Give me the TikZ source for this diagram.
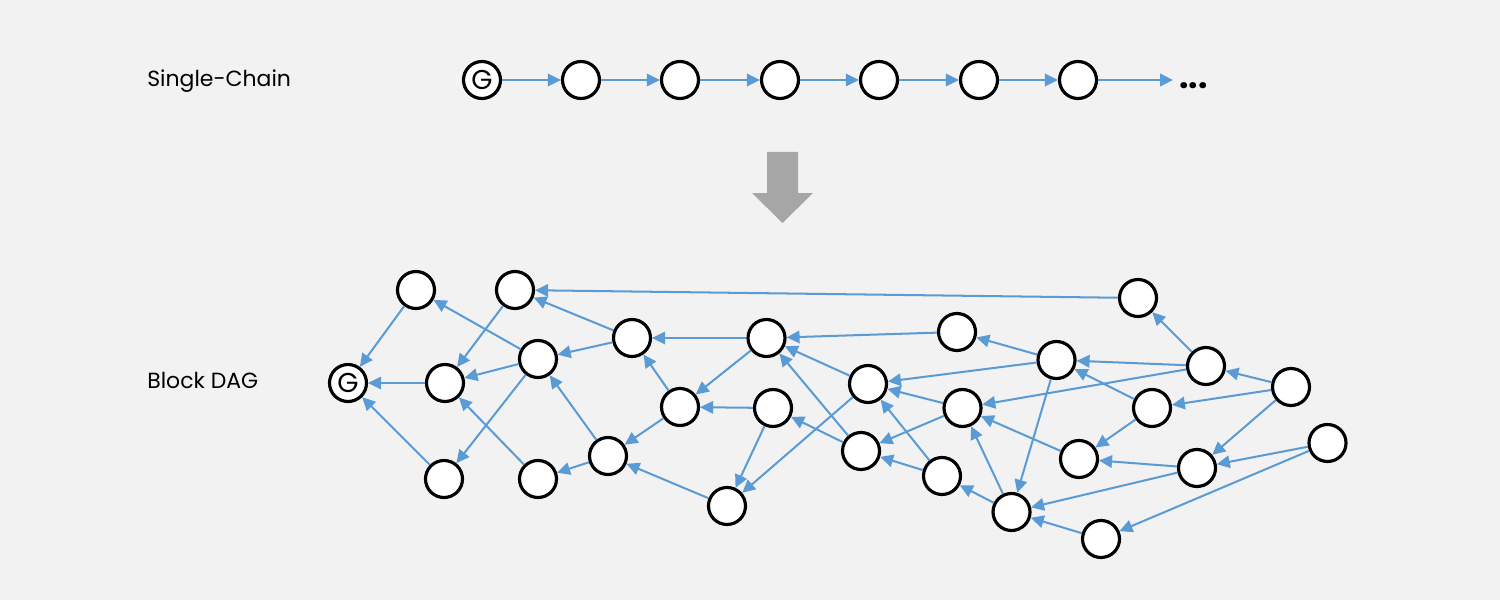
\documentclass[tikz,border=0pt]{standalone}
\usepackage{fontspec}
\setmainfont{Poppins}
\usetikzlibrary{arrows.meta}
\definecolor{LinkBlue}{RGB}{91,155,213}
\definecolor{PageGray}{RGB}{242,242,242}
\definecolor{ShiftGray}{RGB}{166,166,166}
\tikzset{
  blk/.style={circle, draw=black, line width=1.8pt, fill=white, minimum size=0.74cm, inner sep=0pt, font=\fontsize{15.5}{17}\selectfont},
  link/.style={-{Triangle[length=0.26cm, width=0.25cm]}, line width=1.15pt, LinkBlue},
  caption/.style={anchor=base west, inner sep=0pt, font=\fontsize{12.5}{15}\selectfont},
}

\begin{document}
\begin{tikzpicture}
    \fill[PageGray] (0,0) rectangle (30,12);
    \useasboundingbox (0,0) rectangle (30,12);

    % single chain
    \node[caption] (chainlbl) at (2.94,10.27) {Single-Chain};
    \node[blk] (c0) at (9.64,10.4) {G};
    \node[blk] (c1) at (11.62,10.4) {};
    \node[blk] (c2) at (13.6,10.4) {};
    \node[blk] (c3) at (15.6,10.4) {};
    \node[blk] (c4) at (17.58,10.4) {};
    \node[blk] (c5) at (19.58,10.4) {};
    \node[blk] (c6) at (21.56,10.4) {};
    \coordinate (cend) at (23.46,10.4);
    \node[caption, anchor=west, font=\fontsize{19}{20}\selectfont\bfseries] (dots) at (23.58,10.28) {...};
    \draw[link] (c0) -- (c1);
    \draw[link] (c1) -- (c2);
    \draw[link] (c2) -- (c3);
    \draw[link] (c3) -- (c4);
    \draw[link] (c4) -- (c5);
    \draw[link] (c5) -- (c6);
    \draw[link] (c6) -- (cend);

    % shift arrow
    \fill[ShiftGray] (15.34,8.96) -- (15.96,8.96) -- (15.96,8.14) -- (16.26,8.14)
        -- (15.65,7.54) -- (15.04,8.14) -- (15.34,8.14) -- cycle;

    % block dag
    \node[caption] (daglbl) at (2.94,4.23) {Block DAG};
    \node[blk] (g) at (6.96,4.34) {G};
    \node[blk] (n1) at (8.32,6.2) {};
    \node[blk] (n2) at (10.3,6.2) {};
    \node[blk] (n3) at (8.9,4.34) {};
    \node[blk] (n4) at (10.76,4.82) {};
    \node[blk] (n5) at (8.88,2.42) {};
    \node[blk] (n6) at (10.76,2.42) {};
    \node[blk] (n7) at (12.64,5.24) {};
    \node[blk] (n8) at (13.6,3.86) {};
    \node[blk] (n9) at (12.16,2.88) {};
    \node[blk] (n10) at (15.33,5.24) {};
    \node[blk] (n11) at (15.46,3.84) {};
    \node[blk] (n12) at (14.54,1.88) {};
    \node[blk] (n13) at (19.14,5.36) {};
    \node[blk] (n14) at (17.36,4.32) {};
    \node[blk] (n15) at (17.22,2.98) {};
    \node[blk] (n16) at (19.25,3.84) {};
    \node[blk] (n17) at (18.84,2.48) {};
    \node[blk] (n18) at (21.13,4.8) {};
    \node[blk] (n19) at (20.23,1.76) {};
    \node[blk] (n20) at (22.76,6.04) {};
    \node[blk] (n21) at (24.12,4.68) {};
    \node[blk] (n22) at (23.04,3.84) {};
    \node[blk] (n23) at (25.82,4.26) {};
    \node[blk] (n24) at (21.58,2.82) {};
    \node[blk] (n25) at (23.94,2.64) {};
    \node[blk] (n26) at (26.55,3.14) {};
    \node[blk] (n27) at (22.02,1.22) {};

    \draw[link] (n1) -- (g);
    \draw[link] (n3) -- (g);
    \draw[link] (n5) -- (g);
    \draw[link] (n2) -- (n3);
    \draw[link] (n4) -- (n1);
    \draw[link] (n4) -- (n3);
    \draw[link] (n4) -- (n5);
    \draw[link] (n6) -- (n3);
    \draw[link] (n7) -- (n2);
    \draw[link] (n7) -- (n4);
    \draw[link] (n9) -- (n4);
    \draw[link] (n9) -- (n6);
    \draw[link] (n8) -- (n9);
    \draw[link] (n12) -- (n9);
    \draw[link] (n8) -- (n7);
    \draw[link] (n10) -- (n7);
    \draw[link] (n10) -- (n8);
    \draw[link] (n11) -- (n8);
    \draw[link] (n11) -- (n12);
    \draw[link] (n14) -- (n12);
    \draw[link] (n15) -- (n11);
    \draw[link] (n15) -- (n10);
    \draw[link] (n14) -- (n10);
    \draw[link] (n13) -- (n10);
    \draw[link] (n18) -- (n14);
    \draw[link] (n16) -- (n14);
    \draw[link] (n17) -- (n14);
    \draw[link] (n16) -- (n15);
    \draw[link] (n17) -- (n15);
    \draw[link] (n18) -- (n13);
    \draw[link] (n19) -- (n17);
    \draw[link] (n19) -- (n16);
    \draw[link] (n18) -- (n19);
    \draw[link] (n21) -- (n16);
    \draw[link] (n24) -- (n16);
    \draw[link] (n21) -- (n18);
    \draw[link] (n22) -- (n18);
    \draw[link] (n25) -- (n19);
    \draw[link] (n27) -- (n19);
    \draw[link] (n22) -- (n24);
    \draw[link] (n25) -- (n24);
    \draw[link] (n20) -- (n2);
    \draw[link] (n21) -- (n20);
    \draw[link] (n23) -- (n21);
    \draw[link] (n23) -- (n22);
    \draw[link] (n23) -- (n25);
    \draw[link] (n26) -- (n25);
    \draw[link] (n26) -- (n27);
\end{tikzpicture}
\end{document}
